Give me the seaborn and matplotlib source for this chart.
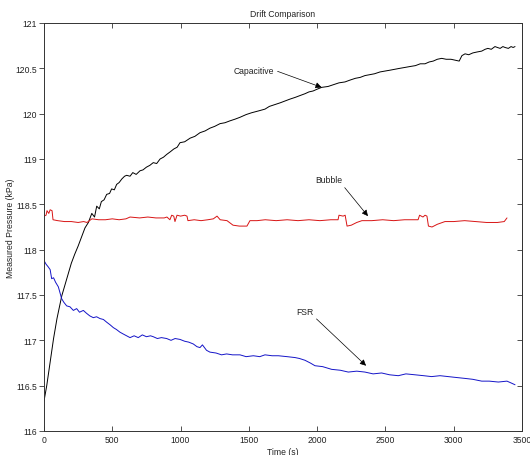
import matplotlib
matplotlib.use("Agg")
import matplotlib.pyplot as plt
import seaborn as sns
import numpy as np

# ---------------- data ----------------
cap_t = [0, 20, 45, 70, 95, 130, 165, 200, 225, 250, 275, 300, 325, 350, 370, 386, 405, 420, 440, 459,
         480, 495, 515, 532, 550, 570, 590, 605, 630, 650, 675, 703, 725, 750, 775, 800, 825, 850, 875,
         898, 925, 950, 975, 996, 1030, 1070, 1105, 1142, 1180, 1215, 1250, 1289, 1325, 1360, 1400,
         1435, 1480, 1520, 1570, 1618, 1650, 1690, 1730, 1765, 1800, 1840, 1875, 1911, 1940, 1970,
         2000, 2033, 2080, 2120, 2160, 2204, 2240, 2280, 2315, 2350, 2385, 2420, 2460, 2497, 2535,
         2570, 2605, 2643, 2680, 2720, 2755, 2790, 2820, 2850, 2880, 2912, 2945, 2980, 3010, 3040,
         3060, 3083, 3110, 3140, 3170, 3205, 3230, 3250, 3275, 3302, 3320, 3340, 3360, 3376, 3400,
         3420, 3435, 3449]
cap_p = [116.33, 116.50, 116.76, 117.02, 117.24, 117.49, 117.67, 117.85, 117.95, 118.04, 118.14, 118.24,
         118.30, 118.40, 118.36, 118.48, 118.45, 118.53, 118.55, 118.61, 118.62, 118.67, 118.66, 118.72,
         118.74, 118.78, 118.81, 118.82, 118.81, 118.85, 118.83, 118.87, 118.88, 118.91, 118.93, 118.96,
         118.95, 119.00, 119.02, 119.05, 119.08, 119.11, 119.13, 119.18, 119.19, 119.23, 119.25, 119.29,
         119.31, 119.34, 119.36, 119.39, 119.40, 119.42, 119.44, 119.46, 119.49, 119.51, 119.53, 119.55,
         119.58, 119.60, 119.62, 119.64, 119.66, 119.68, 119.70, 119.72, 119.74, 119.75, 119.77, 119.79,
         119.80, 119.82, 119.84, 119.85, 119.87, 119.89, 119.90, 119.92, 119.93, 119.94, 119.96, 119.97,
         119.98, 119.99, 120.00, 120.01, 120.02, 120.03, 120.05, 120.05, 120.07, 120.08, 120.10, 120.11,
         120.10, 120.10, 120.09, 120.08, 120.14, 120.16, 120.15, 120.17, 120.18, 120.19, 120.21, 120.22,
         120.21, 120.24, 120.23, 120.22, 120.24, 120.23, 120.22, 120.24, 120.23, 120.24]

fsr_t = [0, 15, 31, 45, 56, 70, 85, 105, 118, 129, 145, 166, 190, 215, 239, 260, 288, 310, 335, 361,
         385, 410, 435, 459, 485, 508, 530, 556, 580, 605, 630, 660, 690, 720, 750, 780, 800, 830, 860,
         898, 930, 960, 996, 1030, 1060, 1093, 1120, 1142, 1160, 1190, 1215, 1260, 1300, 1337, 1380,
         1435, 1480, 1533, 1580, 1618, 1670, 1716, 1780, 1838, 1870, 1911, 1950, 1984, 2040, 2106,
         2170, 2228, 2290, 2350, 2410, 2472, 2530, 2594, 2650, 2716, 2780, 2838, 2900, 2960, 3020,
         3083, 3140, 3205, 3260, 3327, 3390, 3420, 3449]
fsr_p = [117.88, 117.84, 117.81, 117.78, 117.68, 117.69, 117.64, 117.59, 117.52, 117.46, 117.42, 117.38,
         117.37, 117.33, 117.35, 117.31, 117.33, 117.30, 117.27, 117.25, 117.26, 117.24, 117.23, 117.20,
         117.17, 117.14, 117.12, 117.09, 117.07, 117.05, 117.03, 117.05, 117.03, 117.06, 117.04, 117.05,
         117.04, 117.02, 117.03, 117.02, 117.00, 117.02, 117.01, 116.99, 116.98, 116.96, 116.93, 116.92,
         116.95, 116.89, 116.87, 116.86, 116.84, 116.85, 116.84, 116.84, 116.82, 116.83, 116.82, 116.84,
         116.83, 116.83, 116.82, 116.81, 116.80, 116.78, 116.75, 116.72, 116.71, 116.68, 116.67, 116.65,
         116.66, 116.65, 116.63, 116.64, 116.62, 116.61, 116.63, 116.62, 116.61, 116.60, 116.61, 116.60,
         116.59, 116.58, 116.57, 116.55, 116.55, 116.54, 116.55, 116.53, 116.51]

bub_t = [0, 15, 22, 35, 45, 59, 66, 100, 150, 200, 250, 290, 315, 351, 400, 450, 500, 550, 600, 630,
         700, 760, 820, 880, 900, 922, 935, 950, 959, 974, 1000, 1030, 1047, 1054, 1100, 1150, 1200,
         1240, 1267, 1290, 1340, 1384, 1430, 1486, 1508, 1560, 1620, 1700, 1780, 1860, 1940, 2020,
         2100, 2153, 2160, 2190, 2205, 2219, 2250, 2290, 2328, 2400, 2480, 2560, 2640, 2700, 2739,
         2750, 2775, 2790, 2804, 2815, 2841, 2880, 2936, 3000, 3080, 3160, 3240, 3320, 3370, 3390]
bub_p = [118.37, 118.38, 118.43, 118.40, 118.44, 118.43, 118.33, 118.32, 118.31, 118.31, 118.30, 118.31,
         118.30, 118.34, 118.33, 118.33, 118.34, 118.33, 118.34, 118.36, 118.35, 118.36, 118.35, 118.35,
         118.36, 118.33, 118.38, 118.37, 118.31, 118.38, 118.37, 118.38, 118.37, 118.32, 118.33, 118.32,
         118.33, 118.34, 118.37, 118.33, 118.32, 118.27, 118.26, 118.26, 118.32, 118.32, 118.33, 118.32,
         118.33, 118.32, 118.33, 118.32, 118.33, 118.33, 118.38, 118.37, 118.38, 118.26, 118.27, 118.30,
         118.32, 118.32, 118.33, 118.32, 118.33, 118.33, 118.33, 118.38, 118.36, 118.38, 118.37, 118.26,
         118.25, 118.28, 118.31, 118.31, 118.32, 118.31, 118.30, 118.30, 118.31, 118.35]

x_ticks = [0, 500, 1000, 1500, 2000, 2500, 3000, 3500]
y_ticks = [116, 116.5, 117, 117.5, 118, 118.5, 119, 119.5, 120, 120.5]
y_tick_labels = ["116", "116.5", "117", "117.5", "118", "118.5", "119", "120", "120.5", "121"]

labels = ["Capacitive", "Bubble", "FSR"]
label_xy = [(1538, 119.98), (2083, 118.77), (1908, 117.32)]
tip_xy = [(2033, 119.79), (2372, 118.37), (2358, 116.72)]
label_relpos = [(1.0, 0.5), (1.0, 0.0), (1.0, 0.0)]

# ---------------- style ----------------
sns.set_style("white")
plt.rcParams["font.family"] = ["Liberation Sans", "DejaVu Sans"]
FS = 6.2
TXT = "#222222"
SP = "#333333"

fig = plt.figure(figsize=(5.3, 4.56), dpi=100)
ax = fig.add_axes([44 / 530, 1 - 432 / 456, 478 / 530, 408 / 456])

sns.lineplot(x=cap_t, y=cap_p, ax=ax, color="black", lw=0.7)
sns.lineplot(x=bub_t, y=bub_p, ax=ax, color="#d81414", lw=0.7)
sns.lineplot(x=fsr_t, y=fsr_p, ax=ax, color="#1414c8", lw=0.7)

ax.set_xlim(0, 3500)
ax.set_ylim(116, 120.5)
ax.set_xticks(x_ticks)
ax.set_xticklabels([str(v) for v in x_ticks])
ax.set_yticks(y_ticks)
ax.set_yticklabels(y_tick_labels)
ax.tick_params(axis="x", direction="in", top=True, bottom=True, length=3.6, width=0.6,
               color=SP, labelsize=FS, labelcolor=TXT, pad=3)
ax.tick_params(axis="y", direction="out", left=True, right=False, length=3.6, width=0.6,
               color=SP, labelsize=FS, labelcolor=TXT, pad=1.5)
sec = ax.secondary_yaxis("right")
sec.set_yticks(y_ticks)
sec.tick_params(direction="in", length=3.6, width=0.6, color=SP, labelright=False)
sec.spines["right"].set_color(SP)
sec.spines["right"].set_linewidth(0.7)
for s in ax.spines.values():
    s.set_visible(True)
    s.set_color(SP)
    s.set_linewidth(0.7)

ax.set_title("Drift Comparison", fontsize=FS, color=TXT, pad=5)
ax.set_xlabel("Time (s)", fontsize=FS, color=TXT, labelpad=2)
ax.set_ylabel("Measured Pressure (kPa)", fontsize=FS, color=TXT)
ax.yaxis.set_label_coords(-0.061, 0.5)

for lab, lxy, txy, rp in zip(labels, label_xy, tip_xy, label_relpos):
    ax.annotate(lab, xy=txy, xytext=lxy, ha="center", va="center", fontsize=FS,
                color=TXT,
                arrowprops=dict(arrowstyle="-|>", color="black", lw=0.5,
                                mutation_scale=9, relpos=rp, shrinkA=0, shrinkB=0))

fig.savefig("out.png", dpi=100)
